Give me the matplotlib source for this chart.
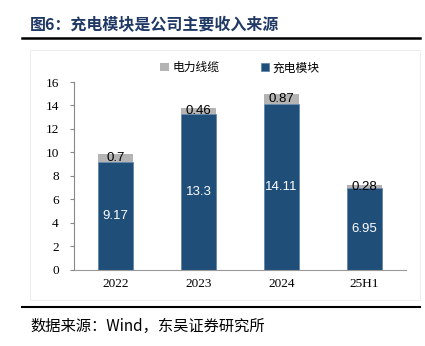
import matplotlib.pyplot as plt
from matplotlib.patches import Rectangle
from matplotlib.lines import Line2D

plt.rcParams['font.family'] = ['Noto Sans CJK SC', 'DejaVu Sans']

# datos del gráfico
categorias = ["2022", "2023", "2024", "25H1"]
modulos = [9.17, 13.3, 14.11, 6.95]   # 充电模块
cables = [0.7, 0.46, 0.87, 0.28]      # 电力线缆

AZUL = "#1F4E79"
GRIS = "#B4B4B4"

fig = plt.figure(figsize=(4.25, 3.46), dpi=100)
ax = fig.add_axes([0.174, 0.22, 0.781, 0.543])

x = range(len(categorias))
ancho = 0.42
ax.bar(x, modulos, width=ancho, color=AZUL, edgecolor="#5A7FA6", linewidth=0.5,
       label="充电模块", zorder=2)
ax.bar(x, cables, width=ancho, bottom=modulos, color=GRIS, label="电力线缆", zorder=2)

for i in x:
    ax.text(i, modulos[i] / 2, f"{modulos[i]:g}", ha="center", va="center",
            color="white", fontsize=9.5, family="Liberation Sans")
    ax.text(i, modulos[i] + cables[i] / 2, f"{cables[i]:g}", ha="center", va="center",
            color="black", fontsize=9.5, family="Liberation Sans")

ax.set_xlim(-0.5, 3.5)
ax.set_ylim(0, 16)
ax.set_yticks(range(0, 17, 2))
ax.set_xticks(list(x))
ax.set_xticklabels(categorias)
for lab in ax.get_xticklabels() + ax.get_yticklabels():
    lab.set_family("Liberation Serif")
    lab.set_fontsize(9.5)
ax.tick_params(axis="y", length=3, color="#888888", width=0.8, pad=8)
ax.tick_params(axis="x", length=0, pad=6)
for s in ["top", "right"]:
    ax.spines[s].set_visible(False)
ax.spines["left"].set_color("#888888")
ax.spines["bottom"].set_color("#999999")

h, l = ax.get_legend_handles_labels()
ax.legend(h[::-1], l[::-1], loc="lower center", bbox_to_anchor=(0.5, 0.985), ncol=2,
          frameon=False, fontsize=8.5, handlelength=0.7, handleheight=0.7,
          handletextpad=0.3, columnspacing=3.5)

# marco claro del área del gráfico
fig.patches.append(Rectangle((30 / 425, 1 - 300 / 346), 390 / 425, 250 / 346,
                             transform=fig.transFigure, fill=False,
                             edgecolor="#EEEEEE", linewidth=0.8))

fig.text(30 / 425, 1 - 25 / 346, "图6：充电模块是公司主要收入来源", fontsize=11.5,
         fontweight="bold", color="#1F3864", va="center")
fig.lines.append(Line2D([22 / 425, 420 / 425], [1 - 38 / 346] * 2,
                        transform=fig.transFigure, color="black", linewidth=1.8))
fig.lines.append(Line2D([22 / 425, 420 / 425], [1 - 307 / 346] * 2,
                        transform=fig.transFigure, color="black", linewidth=1.5))
fig.text(30 / 425, 1 - 326 / 346, "数据来源：Wind，东吴证券研究所", fontsize=11,
         color="black", va="center")

fig.savefig("out.png", dpi=100)
